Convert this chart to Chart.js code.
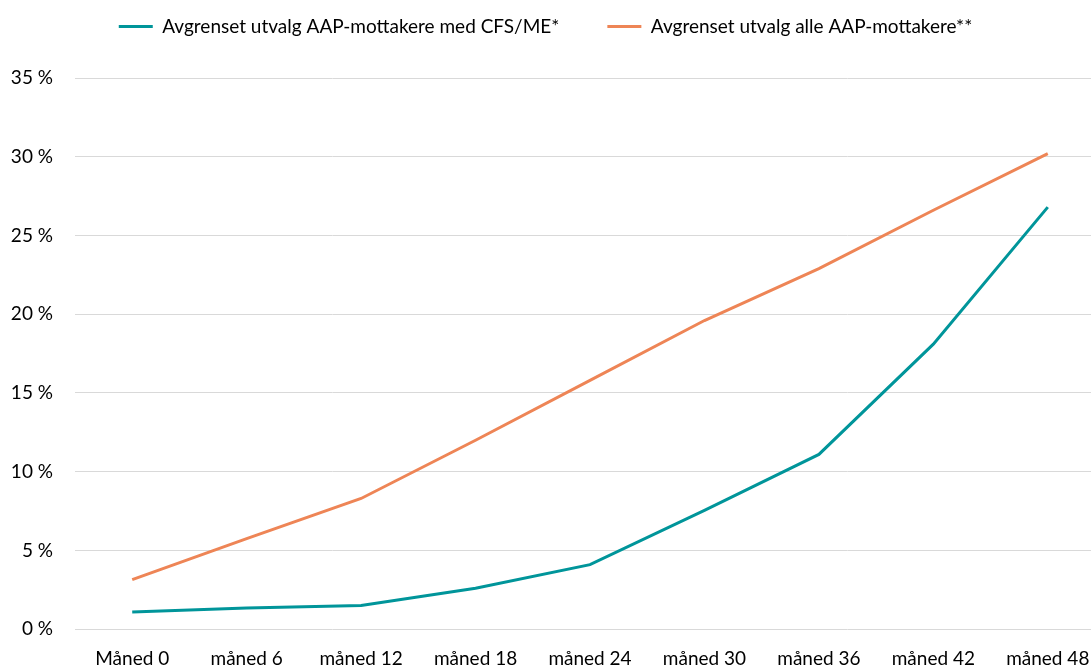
<!DOCTYPE html>
<html>
<head>
<meta charset="utf-8">
<script src="https://cdn.jsdelivr.net/npm/chart.js@4"></script>
<style>
  html, body { margin: 0; padding: 0; background: #fff; overflow: hidden; }
  #wrap { width: 1105px; height: 680px; }
</style>
</head>
<body>
<div id="wrap"><canvas id="aapChart"></canvas></div>
<script>
// Kategorier (måneder etter start)
const maaneder = ['Måned 0', 'måned 6', 'måned 12', 'måned 18', 'måned 24', 'måned 30', 'måned 36', 'måned 42', 'måned 48'];

// Andel i prosent
const cfsMe = [1.1, 1.35, 1.5, 2.6, 4.1, 7.55, 11.1, 18.1, 26.8];
const alleAap = [3.15, 5.75, 8.3, 12.0, 15.8, 19.6, 22.9, 26.6, 30.2];

const yTicks = [0, 5, 10, 15, 20, 25, 30, 35];

const fontFam = 'Lato, "Open Sans", sans-serif';

// legenden: mindre høyde og flyttet opp/til venstre
const legendPlass = {
    id: 'legendPlass',
    beforeInit(chart) {
        const fit = chart.legend.fit;
        chart.legend.fit = function () {
            fit.bind(chart.legend)();
            this.height -= 5;
        };
    },
    afterLayout(chart) {
        chart.legend.top -= 37;
        chart.legend.bottom -= 37;
        chart.legend.left -= 12;
        chart.legend.right -= 12;
    }
};

new Chart(document.getElementById('aapChart'), {
    type: 'line',
    data: {
        labels: maaneder,
        datasets: [{
            label: 'Avgrenset utvalg AAP-mottakere med CFS/ME*',
            data: cfsMe,
            borderColor: '#00959A',
            backgroundColor: '#00959A',
            borderWidth: 3,
            pointRadius: 0,
            tension: 0
        }, {
            label: 'Avgrenset utvalg alle AAP-mottakere**',
            data: alleAap,
            borderColor: '#EE8556',
            backgroundColor: '#EE8556',
            borderWidth: 3,
            pointRadius: 0,
            tension: 0
        }]
    },
    options: {
        responsive: true,
        maintainAspectRatio: false,
        animation: false,
        layout: { padding: { top: 6, left: 10, right: 0, bottom: 0 } },
        scales: {
            x: {
                offset: true,
                grid: { display: false },
                border: { display: false },
                ticks: { color: '#000', font: { family: fontFam, size: 19 }, padding: 10, maxRotation: 0, autoSkip: false }
            },
            y: {
                min: 0,
                max: 35,
                afterBuildTicks: function (axis) {
                    axis.ticks = yTicks.map(v => ({ value: v }));
                },
                afterFit: function (axis) {
                    axis.width = 65;
                },
                grid: { color: '#d9d9d9', lineWidth: 1, drawTicks: false },
                border: { display: false },
                ticks: {
                    color: '#000',
                    padding: 22,
                    font: { family: fontFam, size: 19 },
                    callback: function (v) { return v + ' %'; }
                }
            }
        },
        plugins: {
            legend: {
                position: 'top',
                labels: {
                    usePointStyle: true,
                    pointStyle: 'line',
                    pointStyleWidth: 34,
                    boxHeight: 3,
                    color: '#000',
                    padding: 48,
                    font: { family: fontFam, size: 19 }
                }
            },
            tooltip: { enabled: false }
        }
    },
    plugins: [legendPlass]
});
</script>
</body>
</html>
